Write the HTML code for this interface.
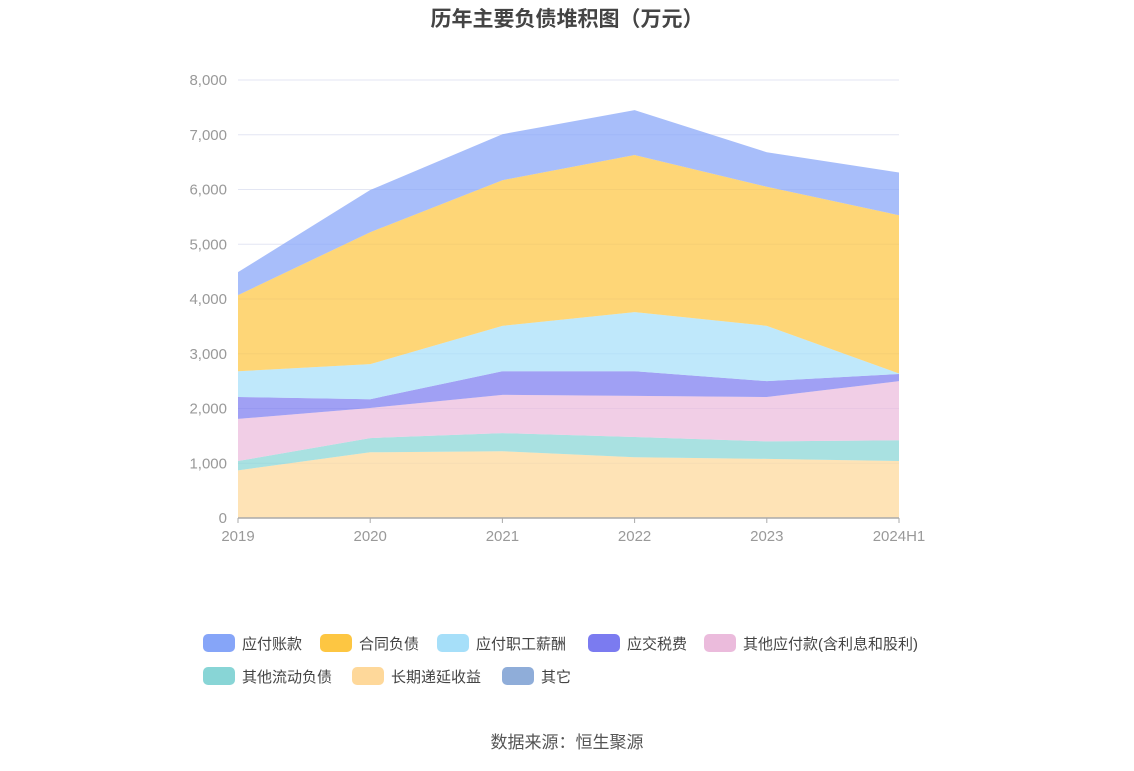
<!DOCTYPE html>
<html><head><meta charset="utf-8">
<style>
body{margin:0;background:#fff;font-family:"Liberation Sans","Noto Sans CJK SC",sans-serif;}
</style></head>
<body>
<svg id="chart" width="1134" height="766" xmlns="http://www.w3.org/2000/svg">
<text x="567" y="26" text-anchor="middle" font-size="21" font-weight="bold" fill="#444" font-family="Liberation Sans, Noto Sans CJK SC, sans-serif">历年主要负债堆积图（万元）</text>
<g id="grid"></g><g id="areas"></g><g id="axes"></g><g id="legend"></g>
<text x="567" y="748" text-anchor="middle" font-size="17" fill="#555" font-family="Liberation Sans, Noto Sans CJK SC, sans-serif">数据来源：恒生聚源</text>
</svg>
<script>
const categories=["2019","2020","2021","2022","2023","2024H1"];
const seriesNames=["应付账款","合同负债","应付职工薪酬","应交税费","其他应付款(含利息和股利)","其他流动负债","长期递延收益","其它"];
const s_yfzk=[420,770,840,820,630,780];
const s_htfz=[1390,2410,2660,2870,2540,2890];
const s_yfzgxc=[470,640,830,1080,1010,10];
const s_yjsf=[400,160,430,450,290,130];
const s_qtyfk=[770,550,700,750,810,1080];
const s_qtldfz=[170,260,330,370,320,380];
const s_cqdysy=[870,1200,1220,1110,1080,1040];
const s_qt=[0,0,0,0,0,0];
const yTicks=[0,1000,2000,3000,4000,5000,6000,7000,8000];
const yTickLabels=["0","1,000","2,000","3,000","4,000","5,000","6,000","7,000","8,000"];
const colors=["#86a5f8","#fdc642","#a6dff9","#7b7bf0","#ebbbdc","#88d5d6","#fed89a","#8fadd9"];
const NS="http://www.w3.org/2000/svg";
const L=238,R=899,T=80,B=518,yMax=8000;
const xs=i=>L+(R-L)*i/(categories.length-1);
const ys=v=>B-(B-T)*v/yMax;
function mk(tag,attrs,parent){const e=document.createElementNS(NS,tag);for(const k in attrs)e.setAttribute(k,attrs[k]);parent.appendChild(e);return e;}
const grid=document.getElementById('grid'),axes=document.getElementById('axes'),areas=document.getElementById('areas'),legend=document.getElementById('legend');
yTicks.forEach((t,i)=>{
 if(t>0){const g=mk('line',{x1:L,x2:R,y1:ys(t),y2:ys(t),stroke:'#e3e6f3','stroke-width':1},grid);
 
 }
 const tx=mk('text',{x:L-11,y:ys(t)+5,'text-anchor':'end','font-size':15,fill:'#999'},axes);
 tx.textContent=yTickLabels[i];
 
 
});
const ax=mk('line',{x1:L,x2:R,y1:B,y2:B,stroke:'#aaa','stroke-width':1.5},axes);


categories.forEach((c,i)=>{
 const tk=mk('line',{x1:xs(i),x2:xs(i),y1:B,y2:B+5,stroke:'#aaa'},axes);
 
 
 const tx=mk('text',{x:xs(i),y:B+23,'text-anchor':'middle','font-size':15,fill:'#999'},axes);
 tx.textContent=c;
 
 
});
// stack bottom-up
const stackOrder=[s_qt,s_cqdysy,s_qtldfz,s_qtyfk,s_yjsf,s_yfzgxc,s_htfz,s_yfzk];
const stackColor=[7,6,5,4,3,2,1,0];
let base=categories.map(()=>0);
stackOrder.forEach((s,k)=>{
 const top=base.map((b,i)=>b+s[i]);
 let d='M'+top.map((v,i)=>xs(i)+','+ys(v)).join('L');
 for(let i=categories.length-1;i>=0;i--)d+='L'+xs(i)+','+ys(base[i]);
 d+='Z';
 const p=mk('path',{d:d,fill:colors[stackColor[k]],'fill-opacity':0.72,stroke:'none'},areas);
 
 
 base=top;
});
// legend
const rows=[[0,1,2,3,4],[5,6,7]];
const rowX=[[203,320,437,588,704],[203,352,502]];
rows.forEach((r,ri)=>r.forEach((si,j)=>{
 const x=rowX[ri][j],y=634+ri*33;
 const g=mk('g',{},legend);
 
 
 mk('rect',{x:x,y:y,width:32,height:18,rx:5,fill:colors[si]},g);
 const t=mk('text',{x:x+39,y:y+15,'font-size':15,fill:'#444'},g);
 t.textContent=seriesNames[si];
}));
</script>
</body></html>
